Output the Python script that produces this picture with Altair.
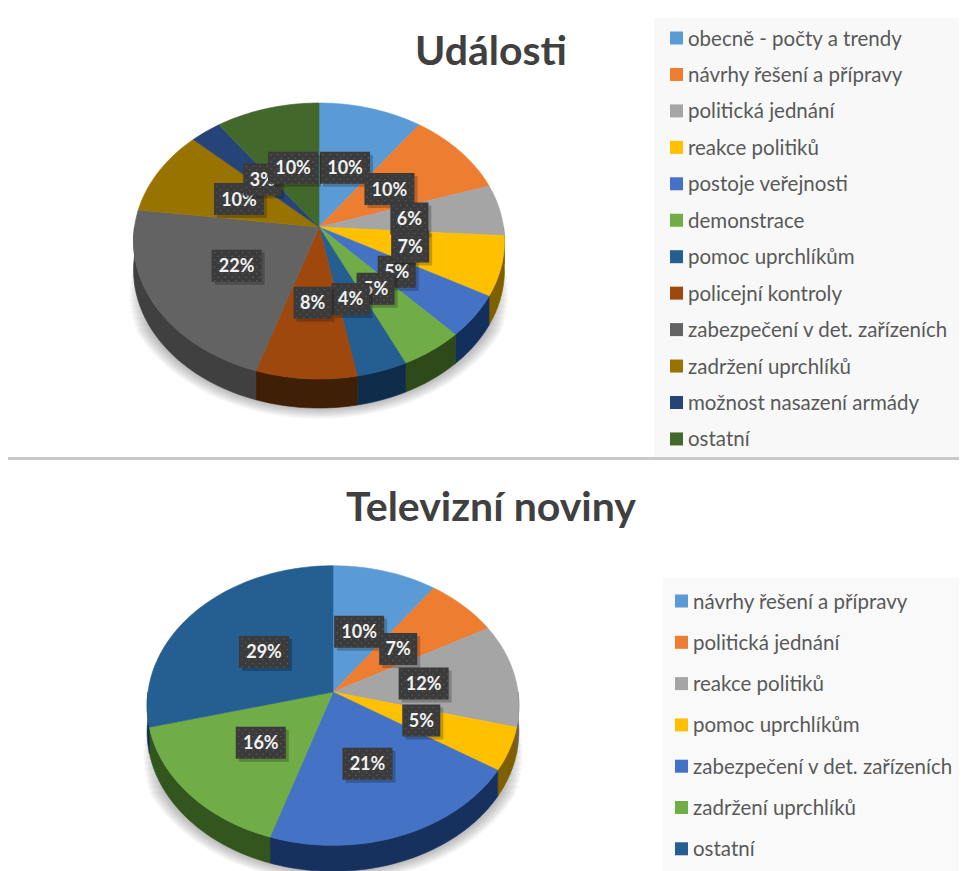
import math
import altair as alt
import pandas as pd

# ---- data ----
title_a = "Události"
cats_a = ["obecně - počty a trendy", "návrhy řešení a přípravy", "politická jednání", "reakce politiků",
          "postoje veřejnosti", "demonstrace", "pomoc uprchlíkům", "policejní kontroly",
          "zabezpečení v det. zařízeních", "zadržení uprchlíků", "možnost nasazení armády", "ostatní"]
vals_a = [10, 10, 6, 7, 5, 5, 4, 8, 22, 10, 3, 10]
cols_a = ["#5B9BD5", "#ED7D31", "#A5A5A5", "#FFC000", "#4472C4", "#70AD47", "#255E91", "#9E480E",
          "#636363", "#997300", "#264478", "#43682B"]
dark_a = ["#2E5C85", "#8A4515", "#606060", "#7F6000", "#132F5C", "#2E4A1A", "#0F2C4A", "#3F1F05",
          "#404040", "#5C4500", "#13244A", "#27401A"]

title_b = "Televizní noviny"
cats_b = ["návrhy řešení a přípravy", "politická jednání", "reakce politiků", "pomoc uprchlíkům",
          "zabezpečení v det. zařízeních", "zadržení uprchlíků", "ostatní"]
vals_b = [10, 7, 12, 5, 21, 16, 29]
cols_b = ["#5B9BD5", "#ED7D31", "#A5A5A5", "#FFC000", "#4472C4", "#70AD47", "#255E91"]
dark_b = ["#2E5C85", "#8A4515", "#606060", "#7F6000", "#17315F", "#33561F", "#0F2C4A"]

# ---- scales: data units equal screenshot pixels ----
X = alt.X("x:Q", axis=None, scale=alt.Scale(domain=[8, 959], nice=False, zero=False))
Y = alt.Y("y:Q", axis=None, scale=alt.Scale(domain=[871, 8], nice=False, zero=False))
X2 = alt.X2("x2:Q")
Y2 = alt.Y2("y2:Q")
FONT = "Lato"


def project(geo, theta, f=1.0):
    cx, cy, r, rs, k = geo["cx"], geo["cy"], geo["r"], geo["rs"], geo["k"]
    u, v = math.sin(theta) * f, math.cos(theta) * f
    w = 1 + k * math.cos(theta)
    return cx + r * u / w, cy - rs * v / w


def build(vals, cols, darks, geo):
    top, side, labels = [], [], []
    acc = 0
    for n, (val, col, dark) in enumerate(zip(vals, cols, darks)):
        a0, a1 = acc / 100 * 2 * math.pi, (acc + val) / 100 * 2 * math.pi
        mid = (a0 + a1) / 2
        acc += val
        steps = max(2, int((a1 - a0) / math.radians(1.5)))
        thetas = [a0 + (a1 - a0) * i / steps for i in range(steps + 1)]
        pts = [(geo["cx"], geo["cy"])] + [project(geo, t) for t in thetas]
        for i, (x, y) in enumerate(pts):
            top.append({"id": f"{geo['id']}{n}", "i": i, "x": x, "y": y, "c": col})
        s0, s1 = max(a0, math.pi / 2), min(a1, 3 * math.pi / 2)
        if s1 > s0:
            st = max(2, int((s1 - s0) / math.radians(1.5)))
            ts = [s0 + (s1 - s0) * i / st for i in range(st + 1)]
            ring = [project(geo, t) for t in ts]
            ring2 = [(x, y + geo["d"]) for x, y in reversed(ring)]
            for i, (x, y) in enumerate(ring + ring2):
                side.append({"id": f"{geo['id']}{n}", "i": i, "x": x, "y": y, "c": dark})
        lx, ly = project(geo, mid, 0.5)
        labels.append({"n": n, "x": lx, "y": ly, "t": f"{val}%", "w": 50 if val >= 10 else 38})
    shadow = []
    for s in range(14):
        f = 0.99 + s * 0.007
        start = 90 + s * 2.2
        span = 360 - 2 * start
        for i in range(61):
            t = math.radians(start + span * i / 60)
            x, y = project(geo, t, f)
            shadow.append({"id": f"{geo['id']}s{s}", "i": i, "x": x,
                           "y": y + geo["d"] * 0.95, "c": "#404040"})
    return top, side, labels, shadow


def poly(rows, opacity=1.0, sw=0.6):
    df = pd.DataFrame(rows)
    return alt.Chart(df).mark_line(interpolate="linear-closed", strokeWidth=sw, opacity=opacity).encode(
        x=X, y=Y, detail="id:N", order="i:Q",
        fill=alt.Fill("c:N", scale=None), color=alt.Color("c:N", scale=None),
    )


def label_layers(labels, order):
    out = []
    by = {r["n"]: r for r in labels}
    for n in order:
        r = by[n]
        h = 32
        x0, x1 = r["x"] - r["w"] / 2, r["x"] + r["w"] / 2
        y0, y1 = r["y"] - h / 2, r["y"] + h / 2
        sh = pd.DataFrame([{"x": x0 + 3, "x2": x1 + 3, "y": y0 + 3, "y2": y1 + 3}])
        out.append(alt.Chart(sh).mark_rect(color="#000000", opacity=0.22).encode(x=X, x2=X2, y=Y, y2=Y2))
        box = pd.DataFrame([{"x": x0, "x2": x1, "y": y0, "y2": y1}])
        out.append(alt.Chart(box).mark_rect(color="#3B3B3B").encode(x=X, x2=X2, y=Y, y2=Y2))
        dots = []
        yy, row = y0 + 3, 0
        while yy < y1:
            xx = x0 + 3 + (3.5 if row % 2 else 0)
            while xx < x1:
                dots.append({"x": xx, "y": yy})
                xx += 7
            yy += 3.5
            row += 1
        out.append(alt.Chart(pd.DataFrame(dots)).mark_circle(size=2, color="#6A6A6A", opacity=0.8).encode(x=X, y=Y))
        txt = pd.DataFrame([{"x": r["x"], "y": r["y"] + 1.5, "t": r["t"]}])
        out.append(alt.Chart(txt).mark_text(font=FONT, fontSize=18, fontWeight="bold", color="#F2F2F2",
                                            align="center", baseline="middle").encode(x=X, y=Y, text="t:N"))
    return out


def legend(cats, cols, sx, tx, y0, dy):
    ys = [y0 + i * dy for i in range(len(cats))]
    sq_df = pd.DataFrame({"c": cols, "x": sx, "y": ys})
    tt_df = pd.DataFrame({"cat": cats, "x": tx, "y": [y + 1.5 for y in ys]})
    sq = alt.Chart(sq_df).mark_square(size=169, opacity=1).encode(x=X, y=Y, color=alt.Color("c:N", scale=None))
    tt = alt.Chart(tt_df).mark_text(font=FONT, fontSize=20.5, color="#595959", align="left", baseline="middle").encode(
        x=X, y=Y, text="cat:N")
    return [sq, tt]


def panel(x0, x1, y0, y1, col):
    d = pd.DataFrame([{"x": x0, "x2": x1, "y": y0, "y2": y1}])
    return alt.Chart(d).mark_rect(color=col).encode(x=X, x2=X2, y=Y, y2=Y2)


def title(t, x, y):
    d = pd.DataFrame([{"x": x, "y": y, "t": t}])
    return alt.Chart(d).mark_text(font=FONT, fontSize=41, fontWeight="bold", color="#404040",
                                  align="center", baseline="middle").encode(x=X, y=Y, text="t:N")


geo_a = dict(id="a", cx=319, cy=227, r=184.5, rs=136.6, k=0.1014, d=29)
geo_b = dict(id="b", cx=333, cy=692, r=185, rs=138.5, k=0.0968, d=26)

ta, sa, la, sha = build(vals_a, cols_a, dark_a, geo_a)
tb, sb, lb, shb = build(vals_b, cols_b, dark_b, geo_b)

layers = [
    panel(654, 959, 18, 457, "#F8F8F8"),
    panel(663, 959, 578, 871, "#F9F9F9"),
    panel(8, 959, 457, 460, "#C9C9C9"),
    poly(sha, opacity=0.035, sw=0),
    poly(shb, opacity=0.035, sw=0),
    poly(sa), poly(sb), poly(ta), poly(tb),
    title(title_a, 491, 52.5),
    title(title_b, 491, 508.5),
]
layers += label_layers(la, [0, 1, 2, 4, 3, 5, 6, 7, 8, 9, 10, 11])
layers += label_layers(lb, list(range(len(vals_b))))
layers += legend(cats_a, cols_a, 676.5, 688, 38, 36.45)
layers += legend(cats_b, cols_b, 681.5, 693, 601, 41.3)

chart = alt.layer(*layers).properties(
    width=951, height=863, padding=0, background="white",
    autosize=alt.AutoSizeParams(type="none"),
).configure_view(stroke=None)

chart.save("out.html", embed_options={"renderer": "svg", "actions": False})
